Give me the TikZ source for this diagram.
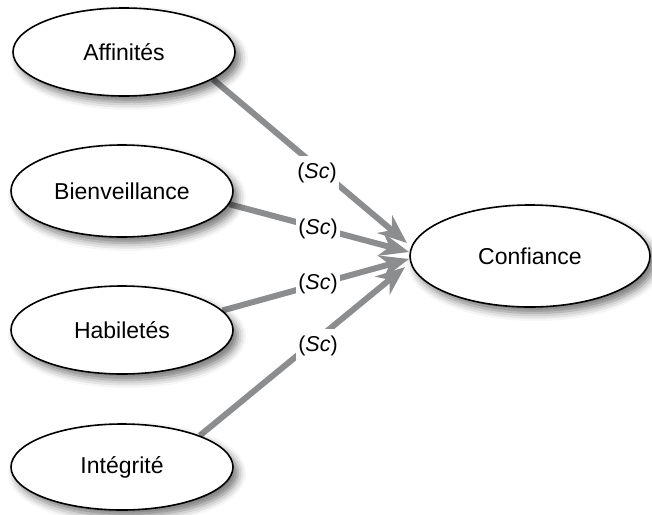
\documentclass[tikz,border=0pt]{standalone}
\usepackage{fontspec}
\setmainfont{Liberation Sans}
\usetikzlibrary{arrows.meta,shapes.geometric,shadows.blur,backgrounds}
\definecolor{linkgray}{HTML}{8C8D8F}
\begin{document}
\begin{tikzpicture}[x=1pt,y=-1pt,
  factor/.style={ellipse, draw=black, line width=1.6pt, fill=white, inner sep=0pt,
    minimum width=222pt, minimum height=88pt, font=\fontsize{23}{27}\selectfont,
    blur shadow={shadow xshift=5pt, shadow yshift=-6pt, shadow blur radius=8pt, shadow opacity=55}},
  link/.style={draw=linkgray, line width=6pt, -{Stealth[length=29pt,width=23pt,inset=9pt]}},
  weight/.style={fill=white, inner xsep=2pt, inner ysep=7pt, font=\fontsize{21.5}{24}\selectfont}
]
\useasboundingbox (0,0) rectangle (652,514);

% antecedents and outcome
\node[factor] (aff) at (124,52) {Affinités};
\node[factor, minimum height=92pt] (bien) at (122,191) {Bienveillance};
\node[factor] (habi) at (122,330) {Habiletés};
\node[factor, minimum height=86pt] (inte) at (122,467) {Intégrité};
\node[factor, minimum width=240pt, minimum height=102pt] (conf) at (530,256) {Confiance};

% arrow tips converging on the outcome
\coordinate (t1) at (407,243);
\coordinate (t2) at (409,252);
\coordinate (t3) at (409,259);
\coordinate (t4) at (405,267);

\begin{scope}[on background layer]
  \draw[link] (aff.-17) -- (t1);
  \draw[link] (bien.-7) -- (t2);
  \draw[link] (habi.11) -- (t3);
  \draw[link] (inte.22) -- (t4);
\end{scope}

% path coefficients
\node[weight] (w1) at (317,173) {(\textit{Sc})};
\node[weight] (w2) at (318,229) {(\textit{Sc})};
\node[weight] (w3) at (318,284) {(\textit{Sc})};
\node[weight] (w4) at (318,346) {(\textit{Sc})};
\end{tikzpicture}
\end{document}
